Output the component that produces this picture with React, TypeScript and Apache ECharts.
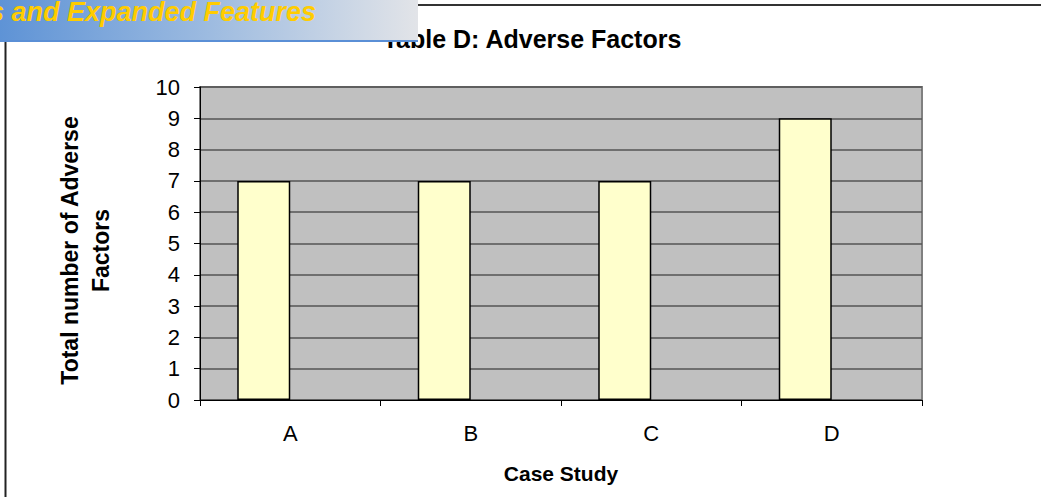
import React, { useEffect, useRef } from "react";
import * as echarts from "echarts";

const categories = ["A", "B", "C", "D"];
const adverseFactors = [7, 7, 7, 9];
const emptySeries = ["-", "-", "-", "-"];
const yTicks = [0, 10, 1];

export default function App() {
  const ref = useRef<HTMLDivElement>(null);
  useEffect(() => {
    if (!ref.current) return;
    const chart = echarts.init(ref.current, null, { renderer: "svg" });
    const font = "Arial";
    const tickRich = { t: { fontFamily: font, fontSize: 22, color: "#000" } };
    chart.setOption({
      animation: false,
      backgroundColor: "#ffffff",
      textStyle: { fontFamily: font },
      title: {
        text: "Table D: Adverse Factors",
        left: 527,
        top: 21,
        textAlign: "center",
        textStyle: { fontFamily: font, fontSize: 25, fontWeight: "bold", color: "#000" },
      },
      grid: {
        left: 200,
        right: 119,
        top: 87,
        bottom: 97,
        show: true,
        backgroundColor: "#C0C0C0",
        borderColor: "#808080",
        borderWidth: 2,
      },
      xAxis: {
        type: "category",
        data: categories,
        name: "Case Study",
        nameLocation: "middle",
        nameGap: 63,
        nameTextStyle: { fontFamily: font, fontSize: 21, fontWeight: "bold", color: "#000" },
        axisLine: { lineStyle: { color: "#000", width: 1 } },
        axisTick: { show: true, length: 6, lineStyle: { color: "#000" } },
        axisLabel: {
          fontFamily: font,
          fontSize: 22,
          color: "#000",
          margin: 22,
          formatter: (v: string) => "{t|" + v + "}",
          rich: tickRich,
        },
        splitLine: { show: false },
      },
      yAxis: {
        type: "value",
        min: yTicks[0],
        max: yTicks[1],
        interval: yTicks[2],
        name: "Total number of Adverse\nFactors",
        nameLocation: "middle",
        nameRotate: 90,
        nameGap: 84,
        nameTextStyle: {
          fontFamily: font,
          fontSize: 23,
          fontWeight: "bold",
          color: "#000",
          lineHeight: 31,
          padding: [0, 14, 0, 0],
        },
        axisLine: { show: true, lineStyle: { color: "#000", width: 1 } },
        axisTick: { show: true, length: 6, lineStyle: { color: "#000" } },
        axisLabel: {
          fontFamily: font,
          fontSize: 22,
          color: "#000",
          margin: 20,
          formatter: (v: number) => "{t|" + v + "}",
          rich: tickRich,
        },
        splitLine: { show: true, lineStyle: { color: "#555555", width: 1.5 } },
      },
      series: [
        {
          type: "bar",
          data: adverseFactors,
          barWidth: 53,
          barGap: "0%",
          itemStyle: { color: "#FFFFCC", borderColor: "#000", borderWidth: 1.5 },
        },
        {
          type: "bar",
          data: emptySeries,
          barWidth: 53,
          barGap: "0%",
          itemStyle: { color: "#FFFFCC", borderColor: "#000", borderWidth: 1.5 },
        },
      ],
      graphic: [
        {
          type: "line",
          z: 100,
          shape: { x1: 418, y1: 5, x2: 1041, y2: 5 },
          style: { stroke: "#333", lineWidth: 2 },
        },
        {
          type: "line",
          z: 100,
          shape: { x1: 5.5, y1: 42, x2: 5.5, y2: 497 },
          style: { stroke: "#222", lineWidth: 2 },
        },
        {
          type: "rect",
          z: 100,
          shape: { x: 0, y: 0, width: 418, height: 41 },
          style: {
            fill: new echarts.graphic.LinearGradient(0, 0, 1, 0, [
              { offset: 0, color: "#5E93D6" },
              { offset: 0.5, color: "#9DBBE0" },
              { offset: 1, color: "#E2E4E8" },
            ]),
          },
        },
        {
          type: "rect",
          z: 101,
          shape: { x: 0, y: 40, width: 418, height: 2 },
          style: { fill: "#5A8FD6" },
        },
        {
          type: "text",
          z: 102,
          x: -11,
          y: 25,
          style: {
            text: "s and Expanded Features",
            fontFamily: font,
            fontSize: 27,
            fontWeight: "bold",
            fontStyle: "italic",
            fill: "#FFCC00",
            align: "left",
            verticalAlign: "bottom",
          },
        },
      ],
    });
    return () => chart.dispose();
  }, []);
  return <div ref={ref} style={{ width: 1041, height: 497, position: "absolute", left: 0, top: 0 }} />;
}
